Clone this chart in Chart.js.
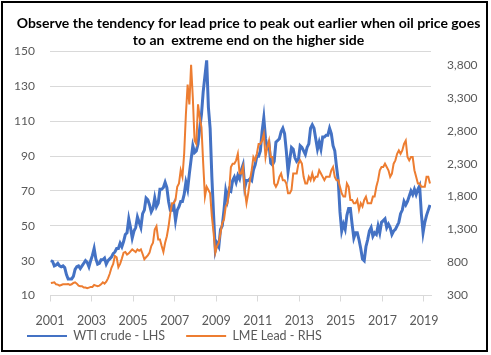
<!DOCTYPE html>
<html>
<head>
<meta charset="utf-8">
<script src="https://cdn.jsdelivr.net/npm/chart.js@4/dist/chart.umd.min.js"></script>
<style>
  html, body { margin: 0; padding: 0; background: #fff; }
  #wrap { position: relative; width: 491px; height: 355px; }
  #c { position: absolute; left: 0; top: 0; }
  #frame { position: absolute; left: 1px; top: 1px; width: 487px; height: 351px; box-sizing: border-box; border: 2px solid #000; pointer-events: none; }
</style>
</head>
<body>
<div id="wrap">
  <canvas id="c" width="491" height="355"></canvas>
  <div id="frame"></div>
</div>
<script>
// ---- Data (monthly, Jan 2001 - Apr 2019) ----
const startYear = 2001;
const titleLines = ["Observe the tendency for lead price to peak out earlier when oil price goes", "to an  extreme end on the higher side"];
const seriesNames = ["WTI crude - LHS", "LME Lead - RHS"];
const yearTicks = [2001, 2003, 2005, 2007, 2009, 2011, 2013, 2015, 2017, 2019];
const leftTicks = [10, 30, 50, 70, 90, 110, 130, 150];
const rightTicks = [300, 800, 1300, 1800, 2300, 2800, 3300, 3800];

const wti = [
  30, 29.5, 27, 27.5, 28.5, 27, 26.5, 27, 26, 22, 19.5, 19.5,      // 2001
  19.5, 21, 25, 26.5, 27, 25.5, 27, 28.5, 30, 29, 26.5, 30,         // 2002
  33, 37, 31, 28, 28.5, 30.5, 30.5, 31.5, 28, 30, 31, 32,           // 2003
  34, 35, 37, 37, 40, 38, 41, 45, 46, 54, 49, 43,                   // 2004
  47, 49, 55, 52, 49, 57, 59, 66, 65, 62, 58, 60,                   // 2005
  66, 61, 63, 71, 71, 72, 75, 72, 64, 59, 59, 62,                   // 2006
  53, 59, 61, 64, 64, 68, 75, 71, 80, 88, 96, 92,                   // 2007
  93, 97, 106, 114, 127, 136, 145, 118, 106, 78, 56, 36,            // 2008
  40, 38, 48, 50, 59, 70, 65, 71, 70, 76, 78, 75,                   // 2009
  79, 77, 82, 85, 72, 76, 76, 77, 76, 82, 85, 90,                   // 2010
  90, 93, 104, 112, 100, 95, 97, 86, 85, 87, 98, 99,                // 2011
  100, 104, 106, 103, 93, 81, 88, 95, 94, 89, 87, 88,               // 2012
  96, 95, 93, 91, 95, 97, 106, 108, 106, 100, 94, 98,               // 2013
  94, 101, 101, 102, 102, 106, 103, 96, 93, 84, 76, 58,             // 2014
  47, 51, 48, 56, 60, 60, 51, 43, 46, 46, 42, 37,                   // 2015
  31, 30, 38, 42, 47, 49, 44, 46, 45, 50, 46, 52,                   // 2016
  53, 54, 49, 51, 49, 45, 47, 48, 50, 52, 57, 59,                   // 2017
  64, 62, 64, 67, 70, 68, 71, 68, 71, 73, 57, 46,                   // 2018
  52, 56, 59, 62                                                    // 2019
];

const lead = [
  490, 495, 500, 470, 465, 450, 460, 470, 470, 470, 475, 460,       // 2001
  470, 490, 500, 480, 450, 440, 440, 420, 420, 410, 420, 430,       // 2002
  430, 460, 450, 440, 450, 470, 500, 480, 510, 560, 630, 720,       // 2003
  780, 900, 880, 730, 780, 860, 950, 960, 920, 940, 970, 1000,      // 2004
  980, 960, 1000, 980, 1000, 930, 850, 880, 910, 950, 1050, 1100,   // 2005
  1300, 1350, 1150, 1150, 1050, 960, 1100, 1200, 1350, 1550, 1700, 1700, // 2006
  1750, 1950, 2000, 2200, 2100, 2450, 3050, 3500, 3200, 3800, 3300, 2650, // 2007
  2600, 3200, 3000, 2850, 2300, 1800, 1950, 1900, 1850, 1500, 1250, 950,  // 2008
  1050, 1100, 1250, 1400, 1450, 1650, 1700, 1900, 2250, 2300, 2300, 2350, // 2009
  2450, 2150, 2150, 2250, 1900, 1700, 1850, 2050, 2200, 2400, 2350, 2450, // 2010
  2600, 2600, 2650, 2750, 2400, 2550, 2650, 2400, 2400, 2000, 1950, 2000, // 2011
  2100, 2150, 2050, 2050, 2000, 1850, 1850, 1900, 2150, 2150, 2150, 2300, // 2012
  2350, 2300, 2100, 2000, 2000, 2100, 2050, 2150, 2050, 2100, 2100, 2200, // 2013
  2150, 2100, 2050, 2100, 2100, 2100, 2200, 2250, 2100, 2050, 2050, 1950, // 2014
  1850, 1800, 1800, 2000, 1950, 1750, 1750, 1700, 1700, 1750, 1600, 1700, // 2015
  1650, 1750, 1800, 1700, 1700, 1700, 1800, 1800, 1950, 2050, 2200, 2250, // 2016
  2250, 2300, 2250, 2200, 2100, 2150, 2300, 2350, 2450, 2500, 2450, 2500, // 2017
  2600, 2650, 2400, 2350, 2400, 2400, 2200, 2100, 2000, 2000, 1950, 1950, // 2018
  1950, 2100, 2100, 2000                                                  // 2019
];

const toPoints = arr => arr.map((v, i) => ({ x: startYear + (i + 0.5) / 12, y: v }));

const yFont = { family: 'Lato', size: 12 };
const xFont = { family: 'Lato', size: 12.5 };
const tickColor = '#595959';
const gridColor = '#D9D9D9';
const legendPad = 21;
const legendCenterY = 336;

// place the legend row where the reference has it (overlapping the x-axis label band)
const legendShift = {
  id: 'legendShift',
  afterLayout(chart) {
    const L = chart.legend;
    L.top = legendCenterY - legendPad - xFont.size / 2;
    L.bottom = chart.height;
    L.height = L.bottom - L.top;
  }
};

new Chart(document.getElementById('c'), {
  type: 'line',
  data: {
    datasets: [
      { label: seriesNames[0], data: toPoints(wti), yAxisID: 'yL', borderColor: '#4472C4', backgroundColor: '#4472C4', borderWidth: 3, pointRadius: 0, tension: 0, order: 2 },
      { label: seriesNames[1], data: toPoints(lead), yAxisID: 'yR', borderColor: '#ED7D31', backgroundColor: '#ED7D31', borderWidth: 2, pointRadius: 0, tension: 0, order: 1 }
    ]
  },
  plugins: [legendShift],
  options: {
    responsive: false,
    animation: false,
    events: [],
    layout: { padding: { left: 6, right: 0, top: 0, bottom: 0 } },
    plugins: {
      title: {
        display: true,
        text: titleLines,
        color: '#000',
        font: { family: 'Lato', size: 14, weight: 'bold', lineHeight: 1.2 },
        padding: { top: 15, bottom: 3 }
      },
      legend: {
        position: 'bottom',
        align: 'start',
        maxHeight: 22,
        labels: {
          color: tickColor,
          font: xFont,
          boxWidth: 40,
          boxHeight: 2,
          padding: legendPad,
          sort: (a, b) => a.datasetIndex - b.datasetIndex,
          generateLabels: chart => chart.data.datasets.map((ds, i) => ({
            text: ds.label, fillStyle: ds.borderColor, strokeStyle: ds.borderColor, lineWidth: 0, datasetIndex: i, hidden: false, fontColor: tickColor
          }))
        }
      },
      tooltip: { enabled: false }
    },
    scales: {
      x: {
        type: 'linear',
        min: 2001,
        max: 2019.34,
        afterBuildTicks: s => { s.ticks = yearTicks.map(v => ({ value: v })); },
        afterFit: s => { s.height = 37.5; },
        ticks: { color: tickColor, font: xFont, padding: 12, maxRotation: 0, autoSkip: false, callback: v => String(v) },
        grid: { drawOnChartArea: false, color: gridColor, tickLength: 6 },
        border: { color: gridColor }
      },
      yL: {
        position: 'left',
        min: 10,
        max: 150,
        afterBuildTicks: s => { s.ticks = leftTicks.map(v => ({ value: v })); },
        afterFit: s => { s.width = 44; },
        ticks: { color: tickColor, font: yFont, padding: 15 },
        grid: { color: gridColor, drawTicks: false },
        border: { display: false }
      },
      yR: {
        position: 'right',
        min: 300,
        max: 4000,
        afterBuildTicks: s => { s.ticks = rightTicks.map(v => ({ value: v })); },
        afterFit: s => { s.width = 60; },
        ticks: { color: tickColor, font: yFont, padding: 16, callback: v => v.toLocaleString('en-US') },
        grid: { display: false, drawTicks: false },
        border: { display: false }
      }
    }
  }
});
</script>
</body>
</html>
